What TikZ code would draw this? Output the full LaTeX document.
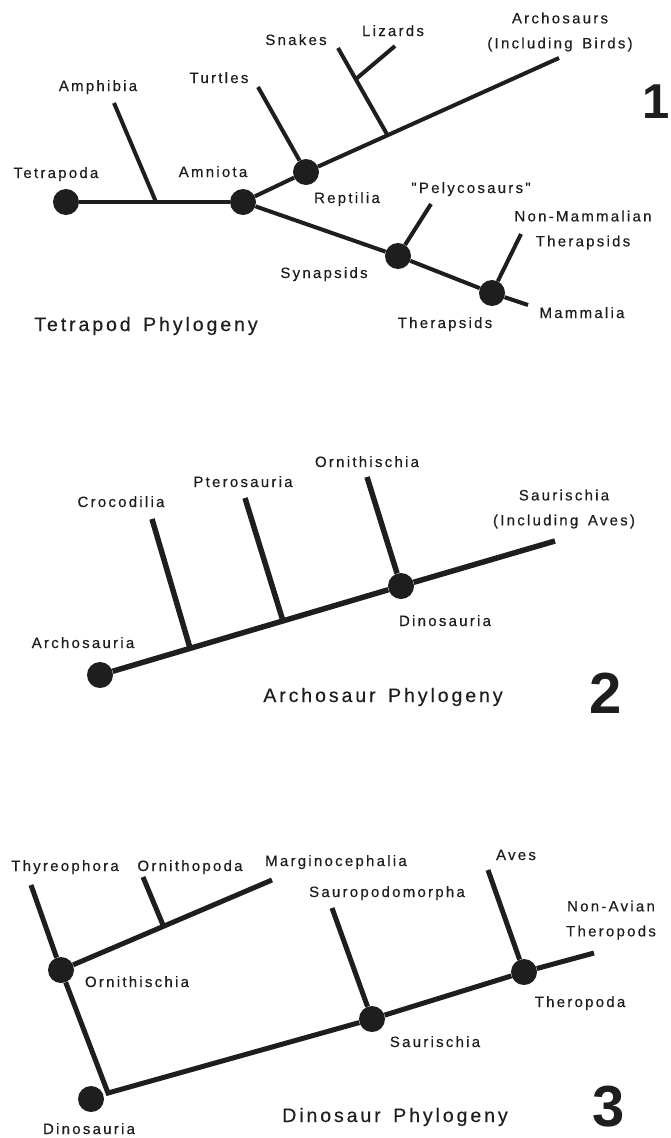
\documentclass[tikz,border=0pt]{standalone}
\usepackage{fontspec}
\newfontfamily\labfont{Liberation Sans}[LetterSpace=15,WordSpace=1.5,FakeBold=0.4]
\newfontfamily\numfont{Liberation Sans Bold}
\definecolor{ink}{HTML}{1E1E1E}
\tikzset{
  lab/.style={font=\labfont\fontsize{15}{25}\selectfont, text=ink, inner sep=0pt, anchor=base},
  labtwo/.style={lab, align=center, anchor=center},
  ttl/.style={font=\labfont\fontsize{19.5}{22}\selectfont, text=ink, inner sep=0pt, anchor=base},
  num/.style={font=\numfont\fontsize{58}{58}\selectfont, text=ink, inner sep=0pt, anchor=base},
  dot/.style={circle, fill=ink, minimum size=26pt, inner sep=0pt},
  brA/.style={draw=ink, line width=4pt},
  brB/.style={draw=ink, line width=5.5pt},
  brC/.style={draw=ink, line width=5pt}
}
\begin{document}
\begin{tikzpicture}[x=1pt,y=-1pt]
\useasboundingbox (0,0) rectangle (670,1138);
% ---------------- Panel 1 ----------------
\node[dot] (tet) at (66,202) {};
\node[dot] (amn) at (243,202) {};
\node[dot] (rep) at (306,172) {};
\node[dot] (syn) at (398,256) {};
\node[dot] (ther) at (492,293) {};
\coordinate (amphTop) at (114,103);
\coordinate (amphJ) at (156,202);
\coordinate (turtTop) at (258,87);
\coordinate (archEnd) at (559,58);
\coordinate (snakeTop) at (338,48);
\coordinate (snakeJ) at (388,136);
\coordinate (lizTop) at (395,46);
\coordinate (lizJ) at (356,79);
\coordinate (mamEnd) at (528,305);
\coordinate (pelyTop) at (431,204);
\coordinate (nmTop) at (521,234);
\draw[brA] (tet) -- (amn);
\draw[brA] (amphTop) -- (amphJ);
\draw[brA] (amn) -- (rep) -- (archEnd);
\draw[brA] (turtTop) -- (rep);
\draw[brA] (snakeTop) -- (snakeJ);
\draw[brA] (lizTop) -- (lizJ);
\draw[brA] (amn) -- (syn) -- (ther) -- (mamEnd);
\draw[brA] (pelyTop) -- (syn);
\draw[brA] (nmTop) -- (ther);
\node[lab] (lTet) at (56,178) {Tetrapoda};
\node[lab] (lAmph) at (98,91) {Amphibia};
\node[lab] (lTurt) at (219,83) {Turtles};
\node[lab] (lAmn) at (213,177) {Amniota};
\node[lab] (lSnk) at (296,45) {Snakes};
\node[lab] (lLiz) at (393,36) {Lizards};
\node[labtwo] (lArch) at (560,32) {Archosaurs\\(Including Birds)};
\node[lab] (lRep) at (347,203) {Reptilia};
\node[lab] (lPely) at (471,193) {"Pelycosaurs"};
\node[labtwo] (lNm) at (583,230) {Non-Mammalian\\Therapsids};
\node[lab] (lSyn) at (324,278) {Synapsids};
\node[lab] (lTher) at (445,328) {Therapsids};
\node[lab] (lMam) at (582,318) {Mammalia};
\node[ttl] (t1) at (146,331) {Tetrapod Phylogeny};
\node[num, font=\numfont\fontsize{49}{49}\selectfont] (n1) at (656,118) {1};
% ---------------- Panel 2 ----------------
\node[dot] (arcD) at (100,675) {};
\node[dot] (dinD) at (401,586) {};
\coordinate (sauEnd) at (555,541);
\coordinate (crocTop) at (152,519);
\coordinate (crocJ) at (190,648);
\coordinate (ptTop) at (245,498);
\coordinate (ptJ) at (283,621);
\coordinate (ornTop) at (367,477);
\draw[brB] (arcD) -- (dinD) -- (sauEnd);
\draw[brB] (crocTop) -- (crocJ);
\draw[brB] (ptTop) -- (ptJ);
\draw[brB] (ornTop) -- (dinD);
\node[lab] (lArs) at (83,648) {Archosauria};
\node[lab] (lCroc) at (121,507) {Crocodilia};
\node[lab] (lPt) at (243,487) {Pterosauria};
\node[lab] (lOrn) at (367,467) {Ornithischia};
\node[labtwo] (lSau) at (564,509) {Saurischia\\(Including Aves)};
\node[lab] (lDin) at (445,626) {Dinosauria};
\node[ttl] (t2) at (383,702) {Archosaur Phylogeny};
\node[num] (n2) at (606,713) {2};
% ---------------- Panel 3 ----------------
\node[dot] (dD) at (91,1099) {};
\node[dot] (ornD) at (61,970) {};
\node[dot] (sauD) at (372,1019) {};
\node[dot] (theD) at (524,972) {};
\coordinate (corner) at (108,1093);
\coordinate (thyTop) at (31,885);
\coordinate (margEnd) at (272,880);
\coordinate (opTop) at (143,877);
\coordinate (opJ) at (163,925);
\coordinate (spTop) at (332,908);
\coordinate (avTop) at (488,870);
\coordinate (natEnd) at (594,953);
\draw[brC] (thyTop) -- (ornD);
\draw[brC] (ornD) -- (corner) -- (sauD) -- (theD) -- (natEnd);
\draw[brC] (ornD) -- (margEnd);
\draw[brC] (opTop) -- (opJ);
\draw[brC] (spTop) -- (sauD);
\draw[brC] (avTop) -- (theD);
\node[lab] (lThy) at (65,871) {Thyreophora};
\node[lab] (lOp) at (190,871) {Ornithopoda};
\node[lab] (lMarg) at (336,866) {Marginocephalia};
\node[lab] (lSp) at (387,897) {Sauropodomorpha};
\node[lab] (lAv) at (516,860) {Aves};
\node[labtwo] (lNat) at (611,920) {Non-Avian\\Theropods};
\node[lab] (lOrn3) at (137,987) {Ornithischia};
\node[lab] (lThe) at (580,1007) {Theropoda};
\node[lab] (lSau3) at (435,1047) {Saurischia};
\node[lab] (lDin3) at (89,1134) {Dinosauria};
\node[ttl] (t3) at (395,1122) {Dinosaur Phylogeny};
\node[num] (n3) at (609,1126) {3};
\end{tikzpicture}
\end{document}
